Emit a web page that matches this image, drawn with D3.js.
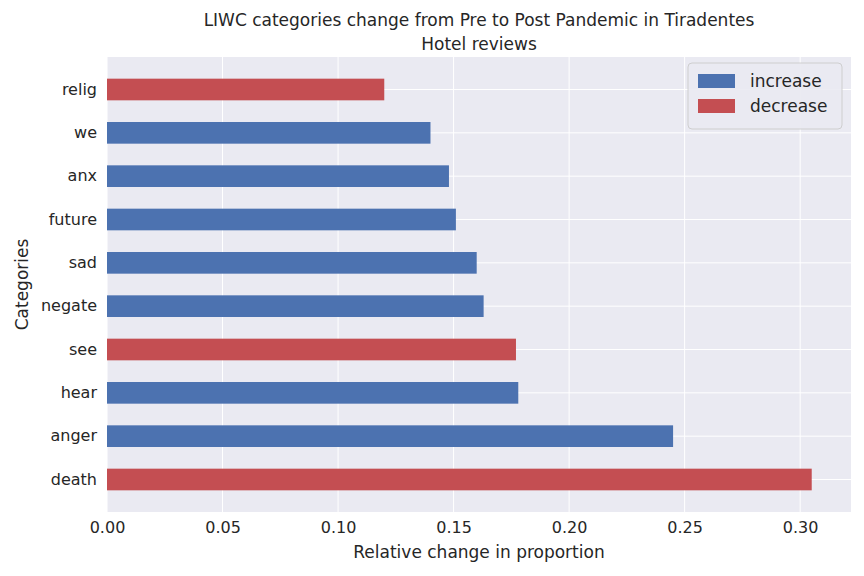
<!DOCTYPE html>
<html><head><meta charset="utf-8">
<script src="https://cdn.jsdelivr.net/npm/d3@7"></script>
<style>body{margin:0;background:#fff;font-family:"DejaVu Sans",sans-serif}</style>
</head><body><div id="chart"></div>
<script>
const categories = ["death","anger","hear","see","negate","sad","future","anx","we","relig"];
const values = [0.305,0.245,0.178,0.177,0.163,0.160,0.151,0.148,0.140,0.120];
const direction = ["decrease","increase","increase","decrease","increase","increase","increase","increase","increase","decrease"];
const xTicks = [0,0.05,0.10,0.15,0.20,0.25,0.30];
const legendItems = ["increase","decrease"];
const colors = {increase:"#4c72b0", decrease:"#c44e52"};

const W = 864, H = 576;
const margin = {top: 57, right: 13, bottom: 64, left: 107};
const width = W - margin.left - margin.right, height = H - margin.top - margin.bottom;

const svg = d3.select("#chart").append("svg").attr("width", W).attr("height", H);
const g = svg.append("g").attr("transform", `translate(${margin.left},${margin.top})`);

g.append("rect").attr("width", width).attr("height", height).attr("fill", "#eaeaf2");

const x = d3.scaleLinear().domain([0, 0.322]).range([0, width]);
const y = d3.scaleBand().domain(categories.slice().reverse()).range([0, height]).padding(0.5);

g.selectAll(".vg").data(xTicks).join("line")
  .attr("x1", d => x(d)).attr("x2", d => x(d)).attr("y1", 0).attr("y2", height)
  .attr("stroke", "#fff").attr("stroke-width", 1);
g.selectAll(".hg").data(categories).join("line")
  .attr("y1", d => y(d) + y.bandwidth()/2).attr("y2", d => y(d) + y.bandwidth()/2)
  .attr("x1", 0).attr("x2", width).attr("stroke", "#fff").attr("stroke-width", 1);

g.selectAll(".bar").data(categories).join("rect")
  .attr("x", 0).attr("y", d => y(d)).attr("height", y.bandwidth())
  .attr("width", (d, i) => x(values[i]))
  .attr("fill", (d, i) => colors[direction[i]]);

const xa = g.append("g").attr("transform", `translate(0,${height})`)
  .call(d3.axisBottom(x).tickValues(xTicks).tickFormat(d3.format(".2f")).tickSize(0).tickPadding(10));
const ya = g.append("g").call(d3.axisLeft(y).tickSize(0).tickPadding(10));
[xa, ya].forEach(a => {
  a.select(".domain").remove();
  a.selectAll("text").attr("font-size", 16).attr("fill", "#262626").attr("font-family", "DejaVu Sans");
});

svg.append("text").attr("x", margin.left + width/2).attr("y", 558).attr("text-anchor", "middle")
  .attr("font-size", 17).attr("fill", "#262626").text("Relative change in proportion");
svg.append("text").attr("transform", `translate(28,${margin.top + height/2}) rotate(-90)`)
  .attr("text-anchor", "middle").attr("font-size", 17).attr("fill", "#262626").text("Categories");
svg.append("text").attr("x", margin.left + width/2).attr("y", 26).attr("text-anchor", "middle")
  .attr("font-size", 17).attr("fill", "#262626").text("LIWC categories change from Pre to Post Pandemic in Tiradentes");
svg.append("text").attr("x", margin.left + width/2).attr("y", 50).attr("text-anchor", "middle")
  .attr("font-size", 17).attr("fill", "#262626").text("Hotel reviews");

const lg = svg.append("g").attr("transform", "translate(688,63)");
lg.append("rect").attr("width", 154).attr("height", 66).attr("rx", 4)
  .attr("fill", "#eaeaf2").attr("stroke", "#ccc").attr("opacity", 0.9);
legendItems.forEach((k, i) => {
  lg.append("rect").attr("x", 10).attr("y", 11 + i*25).attr("width", 37).attr("height", 14).attr("fill", colors[k]);
  lg.append("text").attr("x", 62).attr("y", 24 + i*25).attr("font-size", 17).attr("fill", "#262626").text(k);
});
</script></body></html>
